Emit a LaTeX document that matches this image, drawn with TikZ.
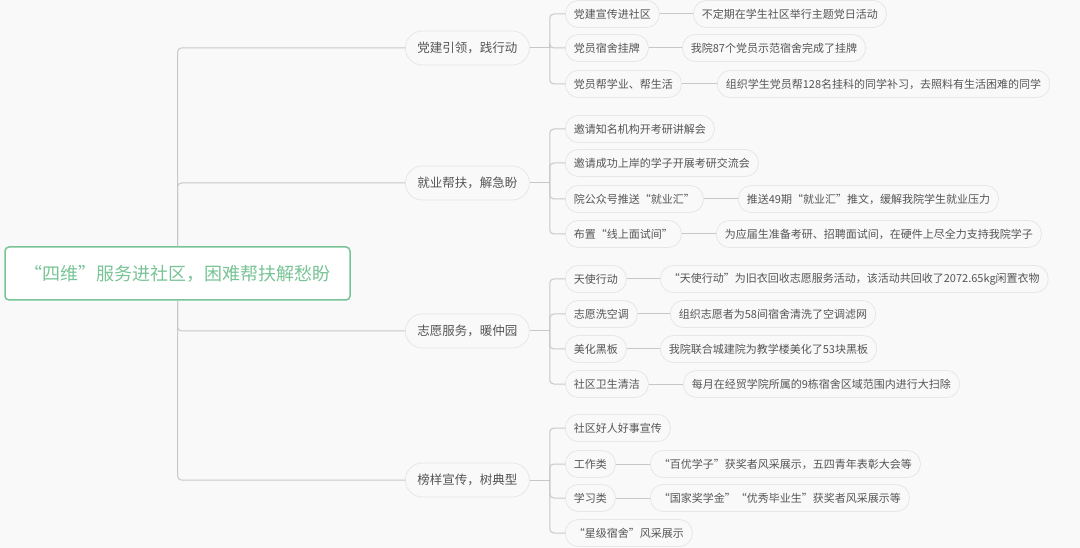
\documentclass[tikz,border=0pt]{standalone}
\usepackage{fontspec}
\setmainfont{Noto Sans CJK SC}
\usetikzlibrary{positioning}

\definecolor{bgcol}{RGB}{249,249,249}
\definecolor{boxcol}{RGB}{230,230,230}
\definecolor{linkcol}{RGB}{200,200,200}
\definecolor{txtcol}{RGB}{85,85,85}
\definecolor{rootcol}{RGB}{120,196,150}

\tikzset{every picture/.style={line width=0.75pt}}
\tikzset{
  rootbox/.style={draw=rootcol, line width=1.5pt, fill=white, rounded corners=4pt,
    minimum width=345pt, minimum height=53pt, text=rootcol,
    font=\fontsize{18}{21}\selectfont},
  topic/.style={draw=boxcol, fill=bgcol, rounded corners=17pt, minimum height=34pt,
    inner xsep=12pt, text=txtcol, font=\fontsize{12.5}{15}\selectfont, anchor=west},
  subtopic/.style={draw=boxcol, fill=bgcol, rounded corners=13pt, minimum height=27pt,
    inner xsep=8.5pt, text=txtcol, font=\fontsize{11}{13}\selectfont, anchor=west},
  link/.style={draw=linkcol, line width=1pt, rounded corners=4pt},
}

\begin{document}
\begin{tikzpicture}[x=1pt,y=1pt,yscale=-1,xscale=1]
\fill[bgcol] (0,0) rectangle (1080,548);
\useasboundingbox (0,0) rectangle (1080,548);

% Root
\node[rootbox] (root) at (177.5,273.5) {“四维”服务进社区，困难帮扶解愁盼};

% Main topics
\node[topic] (p1) at (405,48) {党建引领，践行动};
\node[topic] (p2) at (405,183) {就业帮扶，解急盼};
\node[topic] (p3) at (405,331) {志愿服务，暖仲园};
\node[topic] (p4) at (405,480) {榜样宣传，树典型};

% Group 1
\node[subtopic] (a1) at (565,14) {党建宣传进社区};
\node[subtopic] (a2) at (565,48) {党员宿舍挂牌};
\node[subtopic] (a3) at (565,84) {党员帮学业、帮生活};
\node[subtopic] (a1x) at (693,14) {不定期在学生社区举行主题党日活动};
\node[subtopic] (a2x) at (682,48) {我院87个党员示范宿舍完成了挂牌};
\node[subtopic] (a3x) at (717,84) {组织学生党员帮128名挂科的同学补习，去照料有生活困难的同学};

% Group 2
\node[subtopic] (b1) at (565,129) {邀请知名机构开考研讲解会};
\node[subtopic] (b2) at (565,163) {邀请成功上岸的学子开展考研交流会};
\node[subtopic] (b3) at (565,199) {院公众号推送“就业汇”};
\node[subtopic] (b4) at (565,234) {布置“线上面试间”};
\node[subtopic] (b3x) at (738,199) {推送49期“就业汇”推文，缓解我院学生就业压力};
\node[subtopic] (b4x) at (716,234) {为应届生准备考研、招聘面试间，在硬件上尽全力支持我院学子};

% Group 3
\node[subtopic] (c1) at (565,279) {天使行动};
\node[subtopic] (c2) at (565,314) {志愿洗空调};
\node[subtopic] (c3) at (565,349) {美化黑板};
\node[subtopic] (c4) at (565,384) {社区卫生清洁};
\node[subtopic] (c1x) at (660,279) {“天使行动”为旧衣回收志愿服务活动，该活动共回收了2072.65kg闲置衣物};
\node[subtopic] (c2x) at (670,314) {组织志愿者为58间宿舍清洗了空调滤网};
\node[subtopic] (c3x) at (660,349) {我院联合城建院为教学楼美化了53块黑板};
\node[subtopic] (c4x) at (683,384) {每月在经贸学院所属的9栋宿舍区域范围内进行大扫除};

% Group 4
\node[subtopic] (d1) at (565,428) {社区好人好事宣传};
\node[subtopic] (d2) at (565,464) {工作类};
\node[subtopic] (d3) at (565,498) {学习类};
\node[subtopic] (d4) at (565,533) {“星级宿舍”风采展示};
\node[subtopic] (d2x) at (650,464) {“百优学子”获奖者风采展示，五四青年表彰大会等};
\node[subtopic] (d3x) at (650,498) {“国家奖学金”“优秀毕业生”获奖者风采展示等};

% Connections root
\draw[link] (root.north) |- (p1.west);
\draw[link] (root.north) |- (p2.west);
\draw[link] (root.south) |- (p3.west);
\draw[link] (root.south) |- (p4.west);

% Connections topics
\draw[link] (p1.east) -- ++(20,0) coordinate (t1);
\foreach \n in {a1,a2,a3} \draw[link] (t1) |- (\n.west);
\draw[link] (p2.east) -- ++(20,0) coordinate (t2);
\foreach \n in {b1,b2,b3,b4} \draw[link] (t2) |- (\n.west);
\draw[link] (p3.east) -- ++(20,0) coordinate (t3);
\foreach \n in {c1,c2,c3,c4} \draw[link] (t3) |- (\n.west);
\draw[link] (p4.east) -- ++(20,0) coordinate (t4);
\foreach \n in {d1,d2,d3,d4} \draw[link] (t4) |- (\n.west);

% Connections details
\foreach \n in {a1,a2,a3,b3,b4,c1,c2,c3,c4,d2,d3}
  \draw[link] (\n.east) -- (\n x.west);

\end{tikzpicture}
\end{document}
